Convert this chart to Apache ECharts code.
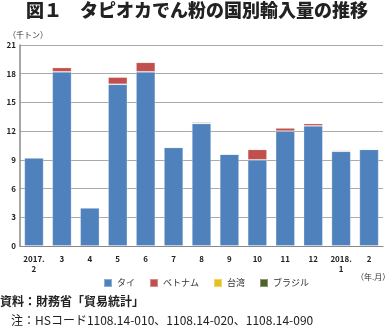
<!DOCTYPE html>
<html><head><meta charset="utf-8">
<script src="https://cdn.jsdelivr.net/npm/echarts@6/dist/echarts.min.js"></script>
<style>html,body{margin:0;padding:0;background:#fff}#c{width:387px;height:327px}</style>
</head><body><div id="c"></div>
<script>
const categories = ['2017.\n2','3','4','5','6','7','8','9','10','11','12','2018.\n1','2'];
const thai    = [9.2, 18.2, 4.0, 16.9, 18.2, 10.3, 12.8, 9.6, 9.0, 12.0, 12.55, 9.9, 10.1];
const vietnam = [0.05, 0.45, 0, 0.75, 1.0, 0.05, 0, 0, 1.1, 0.35, 0.25, 0.12, 0.03];
const taiwan  = [0, 0.05, 0, 0.05, 0, 0, 0, 0, 0, 0, 0, 0, 0];
const brazil  = [0, 0, 0, 0, 0, 0, 0.12, 0, 0, 0, 0, 0, 0];
const yTicks = {min: 0, max: 21, interval: 3};
const names = ['タイ','ベトナム','台湾','ブラジル'];
const colors = ['#4F81BD','#C0504D','#E6C11E','#4F6228'];
const F = '"Noto Sans CJK JP", sans-serif';
const chart = echarts.init(document.getElementById('c'));
const mk = (i, d) => ({
  name: names[i], type: 'bar', stack: 'a', data: d, barCategoryGap: '31%',
  itemStyle: {color: colors[i], borderColor: 'rgba(255,255,255,0.35)', borderWidth: 0.8},
  emphasis: {disabled: true}
});
chart.setOption({
  animation: false,
  textStyle: {fontFamily: F},
  grid: {left: 20, right: 4, top: 45, bottom: 81},
  legend: {
    left: 103, top: 278, itemWidth: 8, itemHeight: 8, itemGap: 14, itemTextGap: 3,
    icon: 'rect', textStyle: {fontSize: 9, color: '#333', fontFamily: F}, padding: 0,
    data: names
  },
  xAxis: {
    type: 'category', data: categories,
    axisLine: {lineStyle: {color: '#888', width: 1}},
    axisTick: {show: false},
    axisLabel: {fontSize: 8, color: '#222', fontWeight: 'bold', margin: 8, lineHeight: 10, interval: 0}
  },
  yAxis: {
    type: 'value', min: yTicks.min, max: yTicks.max, interval: yTicks.interval,
    axisLine: {show: true, lineStyle: {color: '#888', width: 1.5}},
    axisTick: {show: false},
    splitLine: {lineStyle: {color: '#aaa', width: 1}},
    axisLabel: {fontSize: 8, color: '#222', fontWeight: 'bold', margin: 4}
  },
  series: [mk(0, thai), mk(1, vietnam), mk(2, taiwan), mk(3, brazil)],
  graphic: [
    {type: 'text', left: 26, top: 1, style: {text: '図１　タピオカでん粉の国別輸入量の推移', font: '900 18px ' + F, fill: '#222'}},
    {type: 'text', left: 8, top: 31, style: {text: '（千トン）', font: '8px ' + F, fill: '#333'}},
    {type: 'text', left: 356, top: 273, style: {text: '（年.月）', font: '8px ' + F, fill: '#333'}},
    {type: 'text', left: 0, top: 295, style: {text: '資料：財務省「貿易統計」', font: 'bold 12px ' + F, fill: '#222'}},
    {type: 'text', left: 11, top: 314, style: {text: '注：HSコード1108.14-010、1108.14-020、1108.14-090', font: '12px ' + F, fill: '#222'}}
  ]
});
</script></body></html>
